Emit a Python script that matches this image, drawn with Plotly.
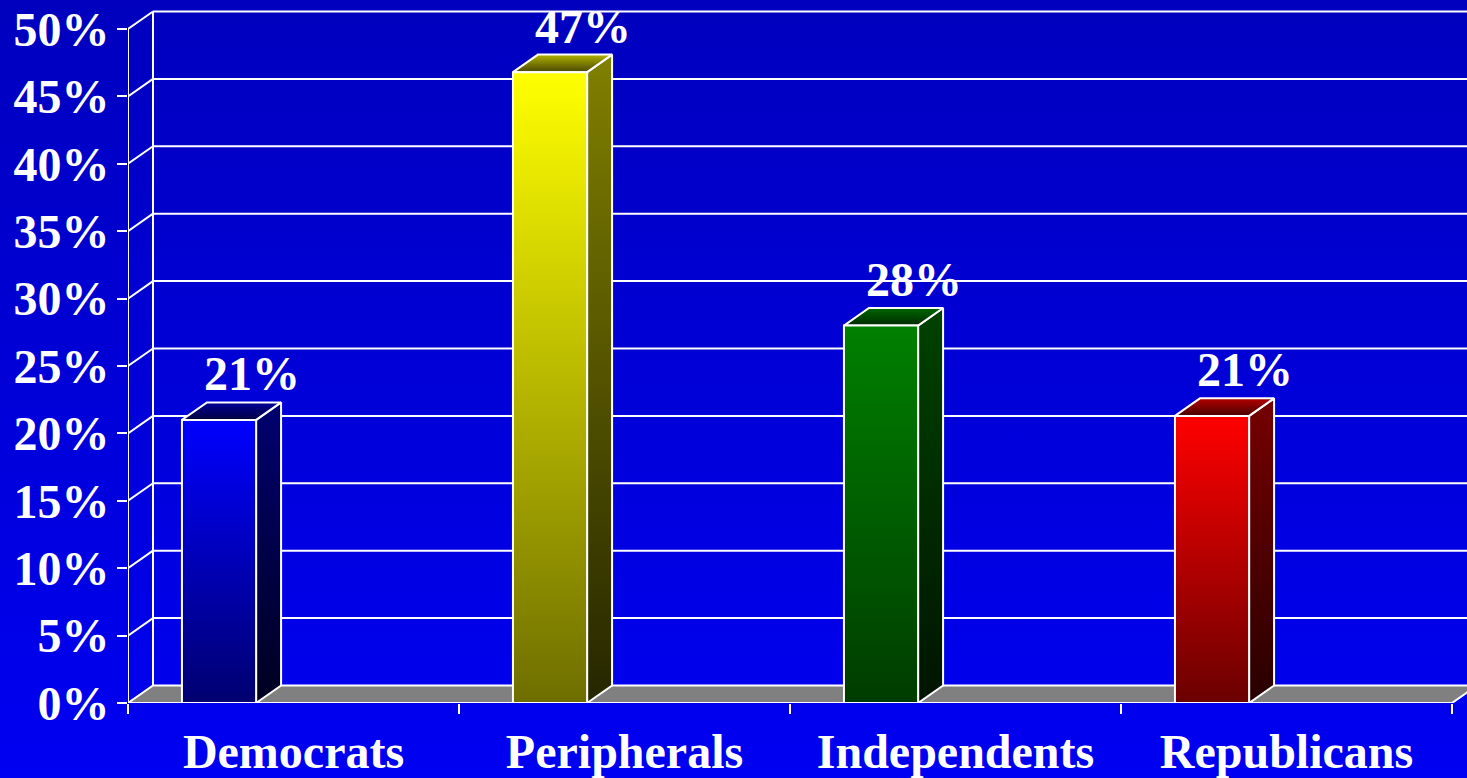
import base64
import plotly.graph_objects as go

categories = ["Democrats", "Peripherals", "Independents", "Republicans"]
values = [21.0, 46.8, 28.0, 21.3]
y_ticks = [0, 5, 10, 15, 20, 25, 30, 35, 40, 45, 50]

# colours per bar: front (top, bottom), side (top, bottom), lid (back, front)
front_cols = [("#0000FF", "#000070"), ("#FFFF00", "#6E6E00"), ("#008000", "#003C00"), ("#FF0000", "#6A0000")]
side_cols = [("#000070", "#000020"), ("#808000", "#262600"), ("#004200", "#001400"), ("#760000", "#280000")]
lid_cols = [("#000098", "#000040"), ("#B0B000", "#484800"), ("#006600", "#002A00"), ("#B40000", "#480000")]

DX, DY = 0.0755, 1.3      # fake depth in axis units
OFF, BW = 0.275, 0.224    # bar offset inside the category slot, bar width
FONT = dict(family="Liberation Serif", size=48, color="white", weight="bold")

fig = go.Figure()

# floor
fig.add_trace(go.Scatter(
    x=[0, len(categories), len(categories) + DX, DX, 0],
    y=[0, 0, DY, DY, 0],
    fill="toself", fillcolor="#808080", mode="lines",
    line=dict(color="white", width=2), hoverinfo="skip", showlegend=False))


def face(xs, ys, cols, name=None):
    fig.add_trace(go.Scatter(
        x=xs, y=ys, fill="toself", mode="lines",
        fillgradient=dict(type="vertical", colorscale=[[0, cols[1]], [1, cols[0]]]),
        line=dict(color="white", width=2),
        hoverinfo="skip" if name is None else "text",
        text=name, hoveron="fills", showlegend=False))


for i, (cat, v) in enumerate(zip(categories, values)):
    x0 = i + OFF - BW / 2
    x1 = i + OFF + BW / 2
    face([x1, x1 + DX, x1 + DX, x1, x1], [0, DY, v + DY, v, 0], side_cols[i])
    face([x0, x1, x1 + DX, x0 + DX, x0], [v, v, v + DY, v + DY, v], lid_cols[i])
    face([x0, x1, x1, x0, x0], [0, 0, v, v, 0], front_cols[i], f"{cat}: {v:.0f}%")
    fig.add_annotation(x=i + OFF + 0.1, y=v, yshift=46, text=f"{v:.0f}%",
                       showarrow=False, font=FONT, yanchor="middle")

# back wall grid + depth lines
shapes = []
for g in y_ticks:
    if g > 0:
        shapes.append(dict(type="line", xref="x", yref="y", x0=0, y0=g, x1=DX, y1=g + DY,
                           line=dict(color="white", width=2), layer="below"))
        shapes.append(dict(type="line", xref="x", yref="y", x0=DX, y0=g + DY, x1=5, y1=g + DY,
                           line=dict(color="white", width=2), layer="below"))
shapes.append(dict(type="line", xref="x", yref="y", x0=DX, y0=DY, x1=DX, y1=max(y_ticks) + DY,
                   line=dict(color="white", width=2), layer="below"))
shapes.append(dict(type="line", xref="x", yref="y", x0=0, y0=0, x1=0, y1=max(y_ticks),
                   line=dict(color="white", width=2), layer="below"))

# vertical gradient background
svg = ('<svg xmlns="http://www.w3.org/2000/svg" viewBox="0 0 10 100" width="10" height="100" '
       'preserveAspectRatio="none"><defs><linearGradient id="g" x1="0" y1="0" x2="0" y2="1">'
       '<stop offset="0" stop-color="#0000BE"/><stop offset="1" stop-color="#0000F2"/>'
       '</linearGradient></defs><rect width="10" height="100" fill="url(#g)"/></svg>')
bg = "data:image/svg+xml;base64," + base64.b64encode(svg.encode()).decode()

W, H = 1467, 778
fig.update_layout(
    width=W, height=H,
    margin=dict(l=0, r=0, t=0, b=0),
    paper_bgcolor="#0000D8",
    plot_bgcolor="rgba(0,0,0,0)",
    shapes=shapes,
    images=[dict(source=bg, xref="paper", yref="paper", x=0, y=1, sizex=1, sizey=1,
                 sizing="stretch", layer="below", xanchor="left", yanchor="top")],
    xaxis=dict(
        domain=[128 / W, 1], range=[0, (W - 128) / 331], automargin=False,
        tickvals=[i + 0.5 for i in range(len(categories))], ticktext=categories,
        ticks="", showgrid=False, zeroline=False, showline=False,
        tickfont=FONT, ticklabelstandoff=16,
        minor=dict(tickvals=list(range(len(categories) + 1)), ticks="outside",
                   ticklen=10, tickwidth=2, tickcolor="white", showgrid=False),
    ),
    yaxis=dict(
        domain=[75 / H, 1], range=[0, 703 / 13.48], automargin=False,
        tickvals=y_ticks, ticktext=[f"{t}%" for t in y_ticks],
        ticks="outside", ticklen=10, tickwidth=2, tickcolor="white",
        showgrid=False, zeroline=False, showline=False,
        tickfont=FONT, ticklabelstandoff=-2,
    ),
    showlegend=False,
)

# drop the default page margin so the figure fills the window
fig.write_html("out.html", config={"displayModeBar": False},
               post_script="document.body.style.margin='0';")
